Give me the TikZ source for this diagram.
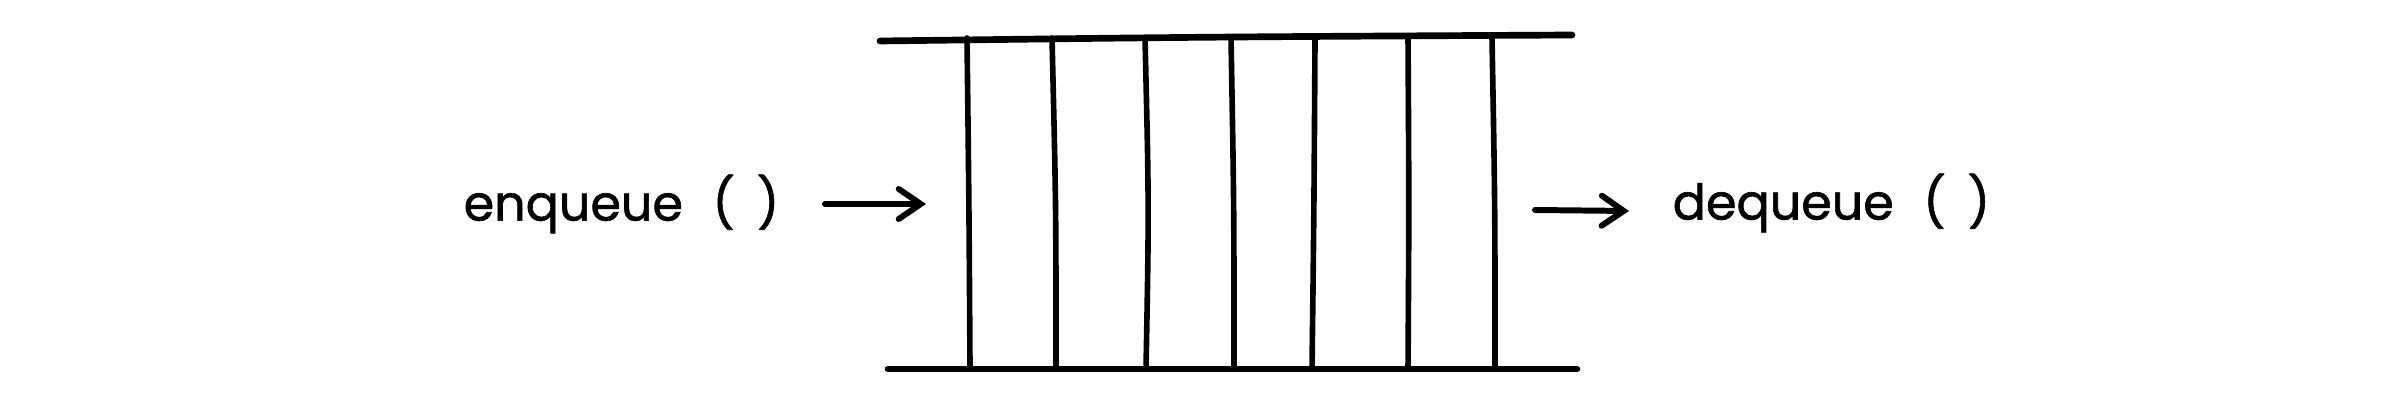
\documentclass[tikz,border=0pt]{standalone}
\usepackage{fontspec}
\setmainfont{Poppins}[FakeBold=1.2, BoldFont=Poppins]
\usepackage{tikz}
\usetikzlibrary{arrows.meta, positioning}

\begin{document}
\begin{tikzpicture}[
    label/.style={inner sep=0pt, font=\fontsize{14}{17}\selectfont\bfseries},
    rail/.style={line width=1.9pt, line cap=round},
    slot/.style={line width=1.6pt, line cap=round},
    arrow/.style={line width=1.7pt, line cap=round, -{Straight Barb[length=0.22cm, width=0.3cm, line cap=round]}}
]
\useasboundingbox (0,0) rectangle (24,4.07);
% queue rails
\coordinate (topL) at (8.80,3.66);
\coordinate (topR) at (15.72,3.72);
\coordinate (botL) at (8.88,0.38);
\coordinate (botR) at (15.77,0.38);
\draw [rail] (topL) .. controls (12,3.70) .. (topR);
\draw [rail] (botL) -- (botR);
% slots
\foreach \xt/\xm/\xb in {9.67/9.69/9.70, 10.52/10.56/10.56, 11.45/11.49/11.46, 12.31/12.34/12.34, 13.15/13.14/13.12, 14.08/14.09/14.08, 14.92/14.95/14.95}
    \draw [slot] (\xt,3.69) .. controls (\xm,2.0) .. (\xb,0.38);
% labels
\node (enq) [label, anchor=east] at (7.80,2.03) {enqueue\hspace{0.6em}(\hspace{0.45em})};
\node (deq) [label, anchor=west] at (16.72,2.04) {dequeue\hspace{0.6em}(\hspace{0.45em})};
% arrows
\coordinate (inTail) at (8.25,2.03);
\coordinate (inTip) at (9.26,2.03);
\coordinate (outTail) at (15.35,1.97);
\coordinate (outTip) at (16.29,1.96);
\draw [arrow] (inTail) -- (inTip);
\draw [arrow] (outTail) -- (outTip);
\end{tikzpicture}
\end{document}
